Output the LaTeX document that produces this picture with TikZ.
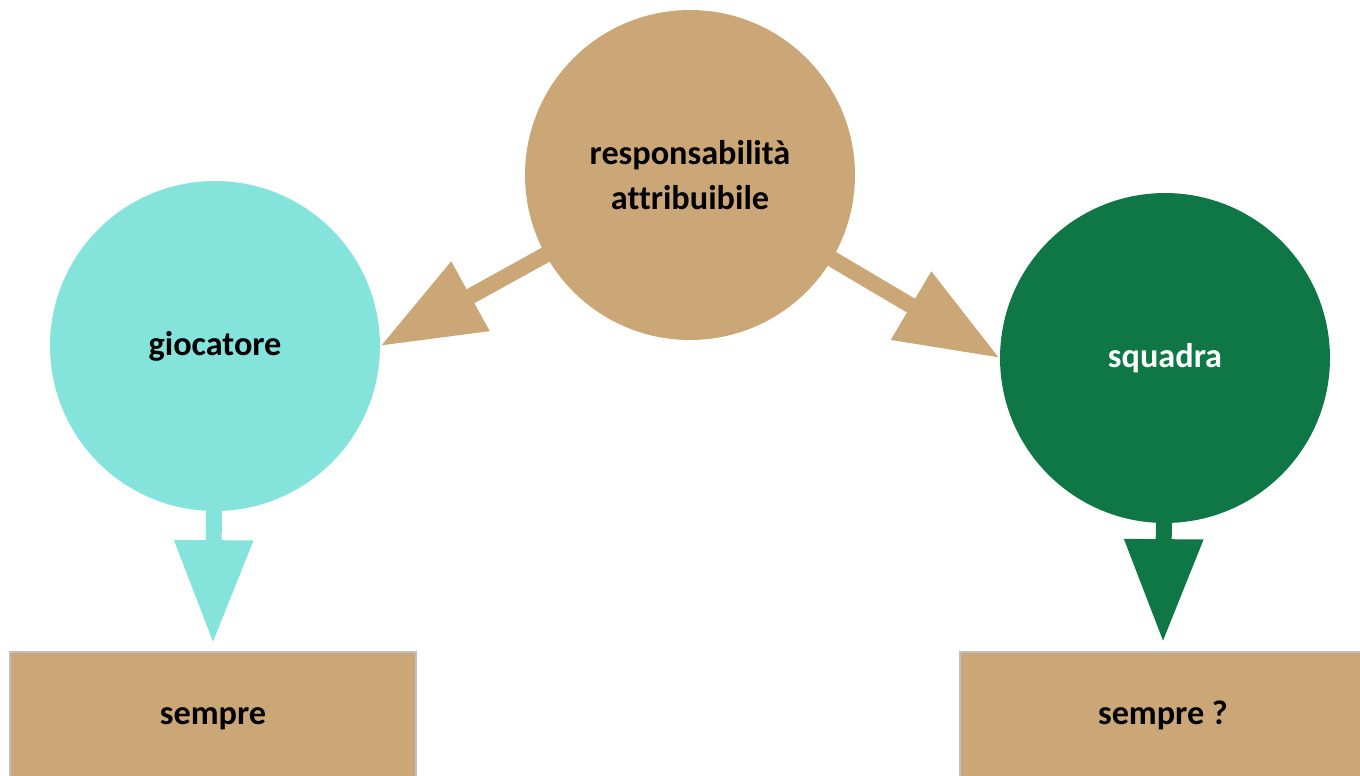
\documentclass[tikz,border=0pt]{standalone}
\usepackage{fontspec}
\setmainfont{Carlito}[Ligatures=NoCommon]
\usetikzlibrary{arrows.meta}
\usetikzlibrary{backgrounds}
\definecolor{tan}{HTML}{CBA677}
\definecolor{acqua}{HTML}{84E3DA}
\definecolor{verde}{HTML}{0E7745}
\definecolor{bordo}{HTML}{BFBFBF}

\begin{document}
\begin{tikzpicture}[x=0.02cm, y=-0.02cm,
  cerchio/.style={circle, minimum size=6.6cm, inner sep=0, align=center,
    font=\bfseries\fontsize{19.5}{26}\selectfont},
  casella/.style={rectangle, fill=tan, draw=bordo, line width=1pt,
    minimum width=8.12cm, minimum height=2.52cm,
    text height=1.3em, text depth=0.2em,
    font=\bfseries\fontsize{19.5}{26}\selectfont},
  freccia/.style={line width=0.32cm, -{Triangle[length=2.06cm, width=1.5cm]}}]
\useasboundingbox (0,0) rectangle (1360,775);
\clip (0,0) rectangle (1360,775);
% cerchi
\node[cerchio, fill=tan] (resp) at (690,175) {responsabilità\\attribuibile};
\node[cerchio, fill=acqua] (gioc) at (215,346) {giocatore};
\node[cerchio, fill=verde, text=white] (squa) at (1165,358) {squadra};
% caselle
\node[casella] (sem1) at (213,715) {sempre};
\node[casella] (sem2) at (1163,715) {sempre ?};
% frecce
\begin{scope}[on background layer]
\draw[freccia, tan] (resp.center) -- (gioc.east);
\draw[freccia, tan] (resp.center) -- (squa.west);
\draw[freccia, acqua] (gioc.center) -- ([yshift=0.16cm]sem1.north);
\draw[freccia, verde] (squa.center) -- ([yshift=0.18cm]sem2.north);
\end{scope}
\end{tikzpicture}
\end{document}
